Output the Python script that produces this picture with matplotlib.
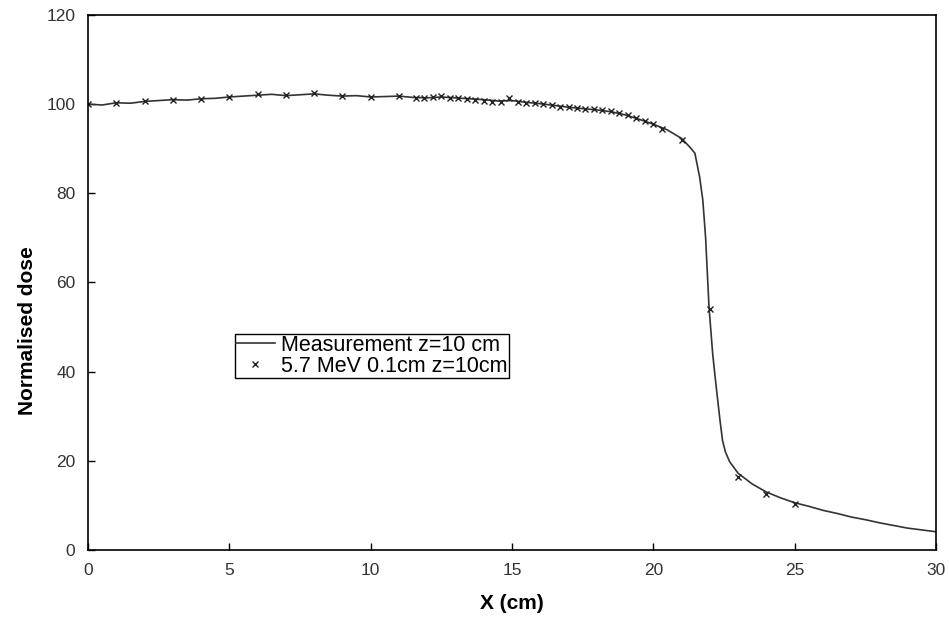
import matplotlib.pyplot as plt

plt.rcParams['font.family'] = ['Liberation Sans', 'DejaVu Sans']

# Curva medida (z = 10 cm)
x_med = [0, 0.5, 1, 1.5, 2, 2.5, 3, 3.5, 4, 4.5, 5, 5.5, 6, 6.5, 7, 7.5, 8, 8.5,
         9, 9.5, 10, 10.5, 11, 11.5, 12, 12.5, 13, 13.5, 14, 14.5, 15, 15.5, 16,
         16.5, 17, 17.5, 18, 18.5, 19, 19.5, 20, 20.5, 21, 21.3, 21.47, 21.64,
         21.75, 21.85, 21.97, 22.1, 22.2, 22.36, 22.45, 22.55, 22.7, 23, 23.5,
         24, 24.5, 25, 25.5, 26, 26.5, 27, 27.5, 28, 28.5, 29, 29.5, 30]
y_med = [100.0, 99.8, 100.3, 100.2, 100.6, 100.8, 101.0, 100.9, 101.2, 101.3,
         101.6, 101.8, 102.0, 102.2, 101.9, 102.1, 102.3, 102.0, 101.8, 101.9,
         101.6, 101.7, 101.8, 101.5, 101.4, 101.6, 101.4, 101.2, 101.0, 100.7,
         100.8, 100.4, 100.1, 99.7, 99.3, 99.0, 98.7, 98.3, 97.6, 96.6, 95.5,
         94.2, 92.3, 90.3, 89.0, 83.6, 78.5, 70.0, 54.5, 44.0, 38.0, 29.0, 24.5,
         22.0, 19.8, 17.2, 14.8, 13.0, 11.7, 10.6, 9.8, 8.9, 8.2, 7.4, 6.8, 6.1,
         5.5, 4.9, 4.5, 4.1]

# Pontos simulados (5.7 MeV, 0.1 cm)
x_sim = [0, 1, 2, 3, 4, 5, 6, 7, 8, 9, 10, 11,
         11.6, 11.9, 12.2, 12.5, 12.8, 13.1, 13.4, 13.7, 14.0, 14.3, 14.6, 14.9,
         15.2, 15.5, 15.8, 16.1, 16.4, 16.7, 17.0, 17.3, 17.6, 17.9, 18.2, 18.5,
         18.8, 19.1, 19.4, 19.7, 20.0, 20.3, 21.0, 22, 23, 24, 25]
y_sim = [100.0, 100.3, 100.7, 101.0, 101.2, 101.7, 102.2, 102.0, 102.5, 101.8,
         101.5, 101.8,
         101.3, 101.3, 101.5, 101.8, 101.4, 101.3, 101.1, 100.9, 100.7, 100.5,
         100.5, 101.3, 100.5, 100.3, 100.3, 100.1, 99.8, 99.4, 99.3, 99.2, 99.0,
         98.8, 98.7, 98.5, 97.9, 97.5, 96.8, 96.3, 95.5, 94.4, 92.0, 54.0, 16.4,
         12.6, 10.3]

fig = plt.figure(figsize=(9.49, 6.28), dpi=100)
ax = fig.add_axes([0.0927, 0.1242, 0.8936, 0.852])

ax.plot(x_med, y_med, color='#333333', linewidth=1.2, label='Measurement z=10 cm')
ax.plot(x_sim, y_sim, linestyle='none', marker='x', markersize=4, markeredgewidth=1.0,
        color='#222222', label='5.7 MeV 0.1cm z=10cm')

ax.set_xlim(0, 30)
ax.set_ylim(0, 120)
ax.set_xticks(range(0, 31, 5))
ax.set_yticks(range(0, 121, 20))
ax.tick_params(direction='in', length=5, width=1, labelsize=12.5, colors='black',
               labelcolor='#333333', pad=9)
for s in ax.spines.values():
    s.set_linewidth(1.2)

ax.set_xlabel('X (cm)', fontsize=15, fontweight='bold', labelpad=12)
ax.set_ylabel('Normalised dose', fontsize=15, fontweight='bold')
# rotulo do eixo y fica um pouco abaixo do centro, como no original
ax.yaxis.set_label_coords(-0.06, 0.41)

leg = ax.legend(loc='lower left', bbox_to_anchor=(0.173, 0.3215), fontsize=15.5,
                frameon=True, fancybox=False, edgecolor='black', framealpha=1,
                borderaxespad=0, handlelength=1.8, handletextpad=0.3,
                borderpad=0.05, labelspacing=0.0)
leg.get_frame().set_linewidth(1.0)

fig.savefig('out.png', dpi=100)
